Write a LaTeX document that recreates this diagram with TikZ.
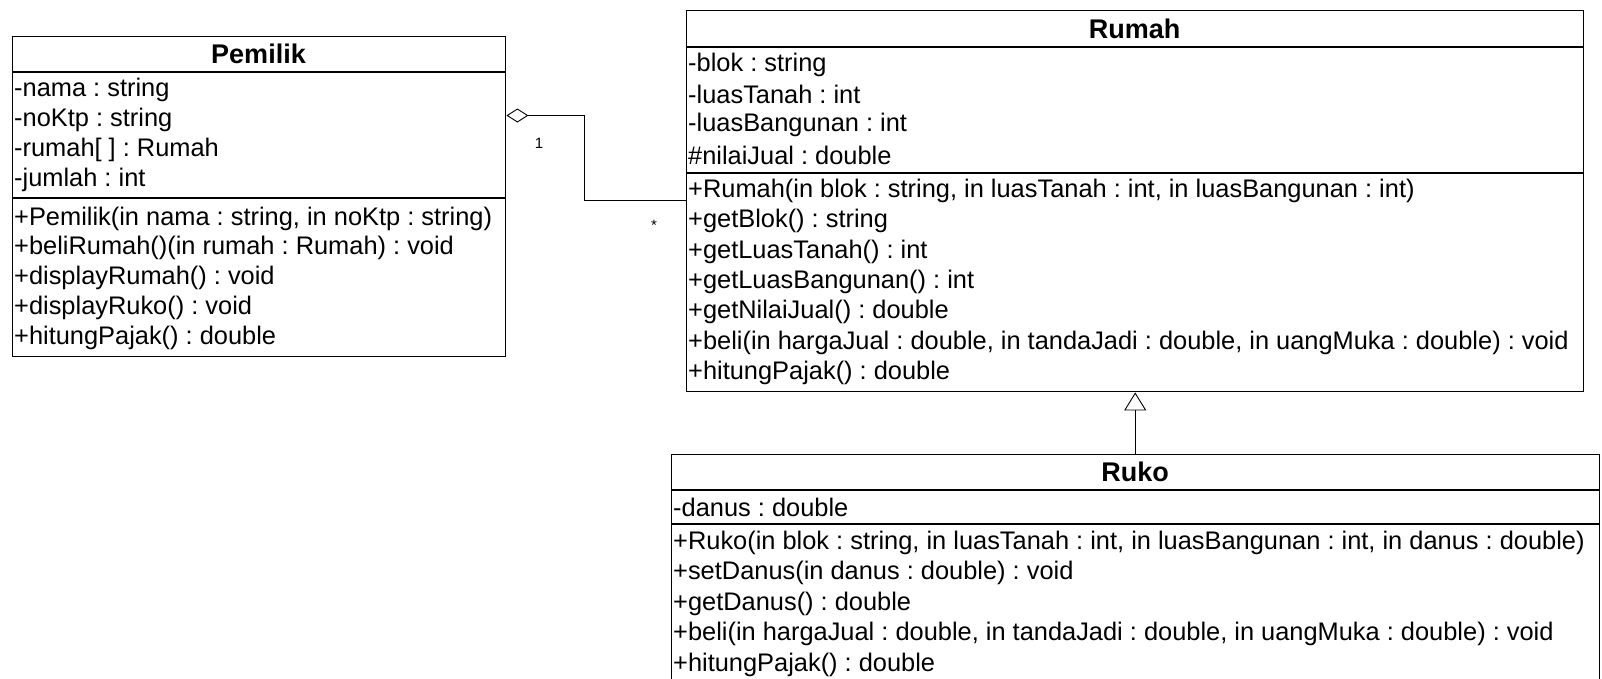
\documentclass[tikz,border=0pt]{standalone}
\usepackage{fontspec}
\setmainfont{Liberation Sans}
\frenchspacing
\usetikzlibrary{arrows.meta,calc}
\begin{document}
\begin{tikzpicture}[x=1pt,y=-1pt,
 box/.style={draw,line width=1.4pt,inner sep=0pt,anchor=north west},
 sep/.style={line width=1.4pt},
 ttl/.style={font=\fontsize{27}{27}\selectfont\bfseries,inner sep=0pt},
 txt/.style={font=\fontsize{25.4}{26}\selectfont,anchor=west,inner xsep=2pt,inner ysep=0pt},
 lbl/.style={font=\fontsize{15}{15}\selectfont,inner sep=0pt},
 con/.style={line width=0.9pt}]
\useasboundingbox (0,0) rectangle (1602,678);
% Pemilik
\node[box,minimum width=493pt,minimum height=320pt] (pem) at (12,36) {};
\draw[sep] (12,72) -- (505,72);
\draw[sep] (12,198) -- (505,198);
\node[ttl] (pemT) at (258.5,54) {Pemilik};
\node[txt] (p1) at (12,90) {-nama : string};
\node[txt] (p2) at (12,120) {-noKtp : string};
\node[txt] (p3) at (12,150) {-rumah[ ] : Rumah};
\node[txt] (p4) at (12,180) {-jumlah : int};
\node[txt] (p5) at (12,218.5) {+Pemilik(in nama : string, in noKtp : string)};
\node[txt] (p6) at (12,247.5) {+beliRumah()(in rumah : Rumah) : void};
\node[txt] (p7) at (12,277.5) {+displayRumah() : void};
\node[txt] (p8) at (12,307.5) {+displayRuko() : void};
\node[txt] (p9) at (12,337.5) {+hitungPajak() : double};
% Rumah
\node[box,minimum width=897pt,minimum height=381pt] (rum) at (686,10) {};
\draw[sep] (686,47) -- (1583,47);
\draw[sep] (686,173) -- (1583,173);
\node[ttl] (rumT) at (1134.5,28.5) {Rumah};
\node[txt] (r1) at (686,64.5) {-blok : string};
\node[txt] (r2) at (686,94) {-luasTanah : int};
\node[txt] (r3) at (686,124.5) {-luasBangunan : int};
\node[txt] (r4) at (686,155) {\#nilaiJual : double};
\node[txt] (r5) at (686,191) {+Rumah(in blok : string, in luasTanah : int, in luasBangunan : int)};
\node[txt] (r6) at (686,221) {+getBlok() : string};
\node[txt] (r7) at (686,251.5) {+getLuasTanah() : int};
\node[txt] (r8) at (686,281.5) {+getLuasBangunan() : int};
\node[txt] (r9) at (686,312) {+getNilaiJual() : double};
\node[txt] (r10) at (686,342.5) {+beli(in hargaJual : double, in tandaJadi : double, in uangMuka : double) : void};
\node[txt] (r11) at (686,373) {+hitungPajak() : double};
% Ruko
\node[box,minimum width=928pt,minimum height=232pt] (ruk) at (671,454) {};
\draw[sep] (671,490) -- (1599,490);
\draw[sep] (671,524) -- (1599,524);
\node[ttl] (rukT) at (1135,472) {Ruko};
\node[txt] (k1) at (671,507.5) {-danus : double};
\node[txt] (k2) at (671,542.5) {+Ruko(in blok : string, in luasTanah : int, in luasBangunan : int, in danus : double)};
\node[txt] (k3) at (671,573) {+setDanus(in danus : double) : void};
\node[txt] (k4) at (671,603.5) {+getDanus() : double};
\node[txt] (k5) at (671,633.5) {+beli(in hargaJual : double, in tandaJadi : double, in uangMuka : double) : void};
\node[txt] (k6) at (671,664.5) {+hitungPajak() : double};
% connectors
\coordinate (aggS) at ([yshift=-79.5pt]pem.north east);
\coordinate (aggE) at ([yshift=-190pt]rum.north west);
\draw[con,{Diamond[open,length=22pt,width=14pt,line width=0.9pt]}-] (aggS) -- (584,115.5) |- (aggE);
\node[lbl] (m1) at (539,143) {1};
\node[lbl] (m2) at (654,225) {*};
\draw[con,-{Triangle[open,length=18pt,width=22pt,line width=0.9pt]}] (ruk.north -| rum.south) -- (rum.south);
\end{tikzpicture}
\end{document}
